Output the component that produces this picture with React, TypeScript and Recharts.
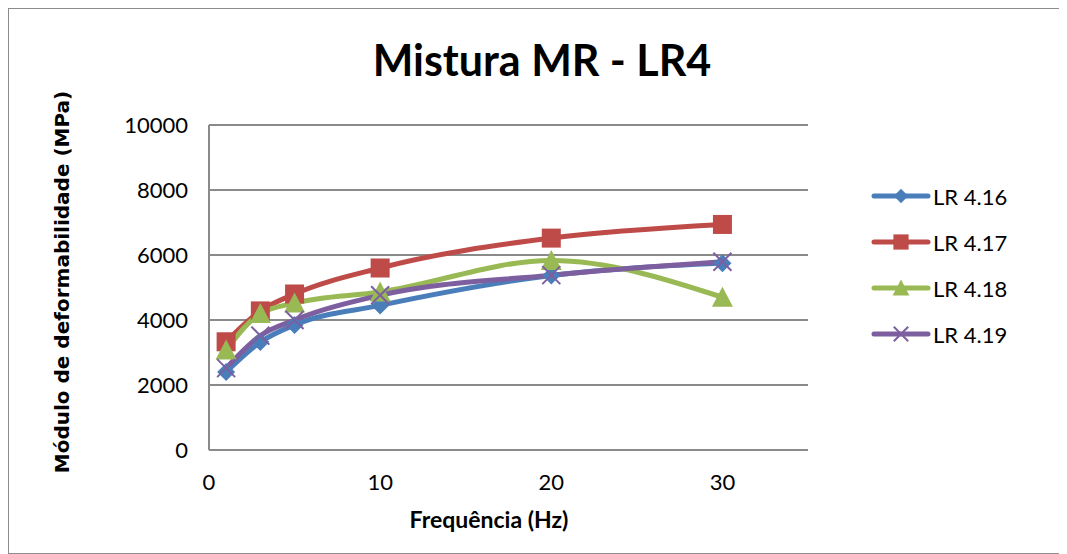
import React from "react";
import { LineChart, Line, XAxis, YAxis, CartesianGrid } from "recharts";

const frequencies = [1, 3, 5, 10, 20, 30];
const lr416 = [2400, 3320, 3850, 4450, 5370, 5750];
const lr417 = [3330, 4280, 4800, 5600, 6520, 6940];
const lr418 = [3080, 4200, 4520, 4860, 5830, 4700];
const lr419 = [2520, 3520, 4000, 4760, 5380, 5790];
const seriesNames = ["LR 4.16", "LR 4.17", "LR 4.18", "LR 4.19"];
const yTicks = [0, 2000, 4000, 6000, 8000, 10000];
const xTicks = [0, 10, 20, 30];

const colors = ["#4a7ebb", "#be4b48", "#98b954", "#7d5fa0"];
const markers = ["diamond", "square", "triangle", "x"];
const keys = ["a", "b", "c", "d"];

const data = frequencies.map((f, i) => ({
  f,
  a: lr416[i],
  b: lr417[i],
  c: lr418[i],
  d: lr419[i],
}));

function Marker({ kind, cx, cy, color, s }: { kind: string; cx: number; cy: number; color: string; s: number }) {
  if (cx == null || cy == null) return null;
  if (kind === "diamond") {
    return <polygon points={`${cx},${cy - s} ${cx + s},${cy} ${cx},${cy + s} ${cx - s},${cy}`} fill={color} />;
  }
  if (kind === "square") {
    return <rect x={cx - s} y={cy - s} width={2 * s} height={2 * s} fill={color} />;
  }
  if (kind === "triangle") {
    return <polygon points={`${cx},${cy - s * 1.05} ${cx + s * 1.05},${cy + s * 0.95} ${cx - s * 1.05},${cy + s * 0.95}`} fill={color} />;
  }
  return (
    <g stroke={color} strokeWidth={2}>
      <line x1={cx - s} y1={cy - s} x2={cx + s} y2={cy + s} />
      <line x1={cx - s} y1={cy + s} x2={cx + s} y2={cy - s} />
    </g>
  );
}

const markerSizes = [9, 9.5, 10, 9];

function LegendBox() {
  return (
    <div style={{ position: "absolute", left: 862, top: 164, fontFamily: "Lato", fontSize: 22, color: "#000" }}>
      {seriesNames.map((n, i) => (
        <div key={n} style={{ display: "flex", alignItems: "center", height: 46 }}>
          <svg width={60} height={24} style={{ display: "block" }}>
            <line x1={3} y1={12} x2={57} y2={12} stroke={colors[i]} strokeWidth={5} strokeLinecap="round" />
            <Marker kind={markers[i]} cx={30} cy={12} color={colors[i]} s={markerSizes[i] * 0.8} />
          </svg>
          <span style={{ marginLeft: 2 }}>{n}</span>
        </div>
      ))}
    </div>
  );
}

export default function App() {
  return (
    <div
      style={{
        position: "relative",
        width: 1059,
        height: 546,
        border: "1px solid #8c8c8c",
        boxSizing: "border-box",
        background: "#fff",
      }}
    >
      <div
        style={{
          position: "absolute",
          left: 0,
          width: 1066,
          top: 25,
          textAlign: "center",
          fontFamily: "Lato",
          fontWeight: 700,
          fontSize: 43,
          lineHeight: "52px",
          color: "#000",
        }}
      >
        Mistura MR - LR4
      </div>
      <div
        style={{
          position: "absolute",
          left: 53 - 200,
          top: 282 - 9 - 13,
          width: 400,
          height: 26,
          lineHeight: "26px",
          textAlign: "center",
          transform: "rotate(-90deg)",
          fontFamily: "DejaVu Sans",
          fontWeight: 700,
          fontSize: 20,
          color: "#000",
        }}
      >
        Módulo de deformabilidade (MPa)
      </div>
      <div
        style={{
          position: "absolute",
          left: 289 - 9,
          width: 400,
          top: 505 - 9,
          textAlign: "center",
          fontFamily: "Lato",
          fontWeight: 700,
          fontSize: 23,
          lineHeight: "28px",
          color: "#000",
        }}
      >
        Frequência (Hz)
      </div>
      <LegendBox />
      <LineChart
        width={1057}
        height={544}
        data={data}
        margin={{ top: 116, right: 258, left: 0, bottom: 63 }}
        style={{ fontFamily: "Lato" }}
      >
        <CartesianGrid vertical={false} stroke="#8a8a8a" strokeWidth={2} />
        <XAxis
          dataKey="f"
          type="number"
          domain={[0, 35]}
          ticks={xTicks}
          tickLine={false}
          tickSize={0}
          tickMargin={24}
          axisLine={{ stroke: "#8a8a8a", strokeWidth: 2 }}
          tick={{ fill: "#000", fontSize: 22, fontFamily: "Lato" }}
          height={40}
        />
        <YAxis
          type="number"
          domain={[0, 10000]}
          ticks={yTicks}
          tickLine={false}
          tickSize={0}
          tickMargin={21}
          width={200}
          axisLine={{ stroke: "#8a8a8a", strokeWidth: 2 }}
          tick={{ fill: "#000", fontSize: 22, fontFamily: "Lato" }}
        />
        {keys.map((k, i) => (
          <Line
            key={k}
            dataKey={k}
            name={seriesNames[i]}
            type="monotone"
            stroke={colors[i]}
            strokeWidth={5}
            isAnimationActive={false}
            dot={(p: any) => (
              <Marker key={`${k}-${p.index}`} kind={markers[i]} cx={p.cx} cy={p.cy} color={colors[i]} s={markerSizes[i]} />
            )}
            activeDot={false}
          />
        ))}
      </LineChart>
    </div>
  );
}
